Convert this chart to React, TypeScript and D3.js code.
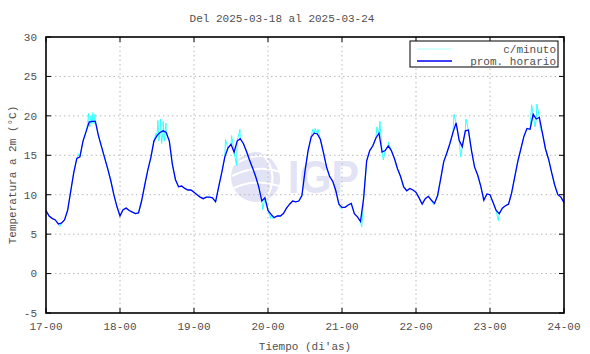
import React from "react";
import * as d3 from "d3";

// ---- data (hourly averages, °C) ----
const day17 = [8.0, 7.3, 7.0, 6.8, 6.3, 6.4, 6.8, 8.0, 10.4, 12.8, 14.6, 14.8, 16.8, 18.0, 19.2, 19.3, 19.3, 17.5, 16.1, 14.7, 13.3, 11.8, 10.0, 8.5];
const day18 = [7.3, 8.1, 8.3, 8.0, 7.8, 7.6, 7.7, 9.2, 11.2, 13.1, 14.7, 16.8, 17.5, 17.9, 18.1, 17.9, 16.8, 13.8, 11.9, 11.0, 11.1, 10.8, 10.6, 10.6];
const day19 = [10.3, 10.0, 9.7, 9.5, 9.7, 9.7, 9.6, 9.1, 11.0, 12.8, 14.8, 15.9, 16.4, 15.4, 16.8, 17.1, 16.5, 15.5, 14.4, 13.4, 12.3, 11.0, 9.2, 9.6];
const day20 = [8.0, 7.5, 7.1, 7.3, 7.3, 7.6, 8.3, 8.8, 9.2, 9.1, 9.2, 9.9, 13.0, 15.6, 17.3, 17.8, 17.7, 17.0, 15.3, 13.5, 12.3, 11.7, 10.5, 8.8];
const day21 = [8.4, 8.4, 8.7, 8.9, 7.6, 7.2, 6.6, 9.5, 14.3, 15.6, 16.2, 17.2, 17.8, 15.4, 15.6, 16.2, 15.6, 14.6, 13.3, 12.3, 11.0, 10.5, 10.8, 10.6];
const day22 = [10.3, 9.6, 8.8, 9.5, 9.8, 9.3, 8.9, 9.9, 12.0, 14.2, 15.3, 16.5, 17.9, 19.1, 16.9, 16.1, 18.1, 18.2, 15.6, 13.5, 12.5, 11.1, 9.3, 10.1];
const day23 = [10.0, 9.0, 8.0, 7.6, 8.3, 8.6, 8.8, 10.2, 12.2, 14.2, 15.8, 17.4, 18.4, 18.3, 20.2, 19.6, 19.8, 17.8, 15.8, 14.5, 12.8, 11.2, 10.0, 9.7];
const day24 = [9.0];

// visible per-minute excursions [hours since 17-00, °C]
const minuteSpikes: [number, number][] = [
  [4.5, 6.0], [10.6, 15.2],
  [13.5, 19.0], [13.8, 20.3], [14.2, 18.6], [14.5, 20.0], [14.9, 19.0], [15.2, 20.4], [15.6, 19.0], [15.9, 20.2], [16.3, 18.9],
  [35.7, 17.8], [36.3, 19.4], [36.6, 16.8], [37.1, 19.6], [37.5, 16.5], [38.0, 19.3], [38.4, 16.8], [38.9, 19.1], [39.3, 17.4],
  [58.2, 17.0], [60.2, 17.5], [61.8, 13.7], [62.9, 18.3], [70.3, 8.1], [72.9, 7.0], [73.5, 7.0],
  [86.5, 18.3], [87.3, 18.4], [88.2, 18.3],
  [95.4, 8.3], [102.4, 5.9], [107.3, 18.6], [108.3, 19.3], [109.4, 14.4], [111.0, 16.7],
  [125.8, 8.7], [132.3, 20.2], [134.5, 14.8], [136.2, 19.6], [146.7, 6.7],
  [157.5, 21.4], [158.6, 18.6], [159.2, 21.5], [160.3, 18.4],
];

const hourly = [...day17, ...day18, ...day19, ...day20, ...day21, ...day22, ...day23, ...day24];
const dayTicks = ["17-00", "18-00", "19-00", "20-00", "21-00", "22-00", "23-00", "24-00"];
const yTicks = [-5, 0, 5, 10, 15, 20, 25, 30];
const title = "Del 2025-03-18 al 2025-03-24";

const W = 590, H = 354;
const L = 46, R = 564, T = 37, B = 313;
const FONT = "'Liberation Mono', 'DejaVu Sans Mono', monospace";
const TXT = "#505050";

export default function App() {
  const x = d3.scaleLinear().domain([0, 168]).range([L, R]);
  const y = d3.scaleLinear().domain([-5, 30]).range([B, T]);

  const hourPts: [number, number][] = hourly.map((v, i) => [i, v]);
  const cyanPts = [...hourPts, ...minuteSpikes].sort((a, b) => a[0] - b[0]);

  const line = d3.line<[number, number]>().x((d) => x(d[0])).y((d) => y(d[1]));

  const dayPos = dayTicks.map((_, i) => i * 24);

  return (
    <svg width={W} height={H} style={{ position: "absolute", left: 0, top: 0, background: "#fff" }}>
      <rect x={0} y={0} width={W} height={H} fill="#fff" />
      {/* watermark */}
      <g>
        <circle cx={256} cy={177} r={25} fill="#e3e3f6" />
        <path d="M 234 165 Q 256 150 278 160" stroke="#fff" strokeWidth={2} fill="none" />
        <path d="M 232 176 Q 256 164 281 172" stroke="#fff" strokeWidth={2} fill="none" />
        <path d="M 234 188 Q 256 178 279 186" stroke="#fff" strokeWidth={2} fill="none" />
        <path d="M 262 153 Q 282 177 264 201" stroke="#fff" strokeWidth={2} fill="none" />
        <path d="M 270 156 Q 290 177 274 197" stroke="#fff" strokeWidth={2} fill="none" />
        <text x={288} y={193} fontFamily="'Liberation Sans', Arial, sans-serif" fontWeight="bold" fontSize={46} fill="#e3e3f6" textLength={71} lengthAdjust="spacingAndGlyphs">IGP</text>
      </g>
      {/* grid */}
      {yTicks.slice(1, -1).map((t) => (
        <line key={"gy" + t} x1={L} x2={R} y1={y(t)} y2={y(t)} stroke="#b8b8b8" strokeDasharray="1.5,3" />
      ))}
      {dayPos.slice(1, -1).map((p) => (
        <line key={"gx" + p} x1={x(p)} x2={x(p)} y1={T} y2={B} stroke="#b8b8b8" strokeDasharray="1.5,3" />
      ))}
      {/* ticks */}
      {yTicks.map((t) => (
        <g key={"ty" + t}>
          <line x1={L} x2={L + 5} y1={y(t)} y2={y(t)} stroke="#000" />
          <line x1={R - 5} x2={R} y1={y(t)} y2={y(t)} stroke="#000" />
          <text x={37} y={y(t)} dy="0.35em" textAnchor="end" fontFamily={FONT} fontSize={11} fill={TXT}>{t}</text>
        </g>
      ))}
      {dayPos.map((p, i) => (
        <g key={"tx" + p}>
          <line x1={x(p)} x2={x(p)} y1={B} y2={B - 5} stroke="#000" />
          <line x1={x(p)} x2={x(p)} y1={T} y2={T + 5} stroke="#000" />
          <text x={x(p)} y={326} dy="0.35em" textAnchor="middle" fontFamily={FONT} fontSize={11} fill={TXT}>{dayTicks[i]}</text>
        </g>
      ))}
      {/* data */}
      <path d={line(cyanPts) || ""} fill="none" stroke="#33ffff" strokeWidth={1} />
      <path d={line(hourPts) || ""} fill="none" stroke="#0000ff" strokeWidth={1.3} />
      {/* frame */}
      <rect x={L} y={T} width={R - L} height={B - T} fill="none" stroke="#000" strokeWidth={1.6} />
      {/* legend */}
      <rect x={410} y={41} width={148} height={26} fill="#fff" stroke="#000" strokeWidth={1} />
      <line x1={417} x2={452} y1={49} y2={49} stroke="#aaffff" strokeWidth={1} />
      <line x1={417} x2={452} y1={61} y2={61} stroke="#0000ff" strokeWidth={1.3} />
      <text x={556} y={49} dy="0.35em" textAnchor="end" fontFamily={FONT} fontSize={11} fill={TXT}>c/minuto</text>
      <text x={556} y={61} dy="0.35em" textAnchor="end" fontFamily={FONT} fontSize={11} fill={TXT}>prom. horario</text>
      {/* titles */}
      <text x={282} y={18} dy="0.35em" textAnchor="middle" fontFamily={FONT} fontSize={11} fill={TXT}>{title}</text>
      <text x={305} y={346} dy="0.35em" textAnchor="middle" fontFamily={FONT} fontSize={11} fill={TXT}>Tiempo (di'as)</text>
      <text transform={`translate(12,175) rotate(-90)`} dy="0.35em" textAnchor="middle" fontFamily={FONT} fontSize={11} fill={TXT}>Temperatura a 2m (°C)</text>
    </svg>
  );
}
